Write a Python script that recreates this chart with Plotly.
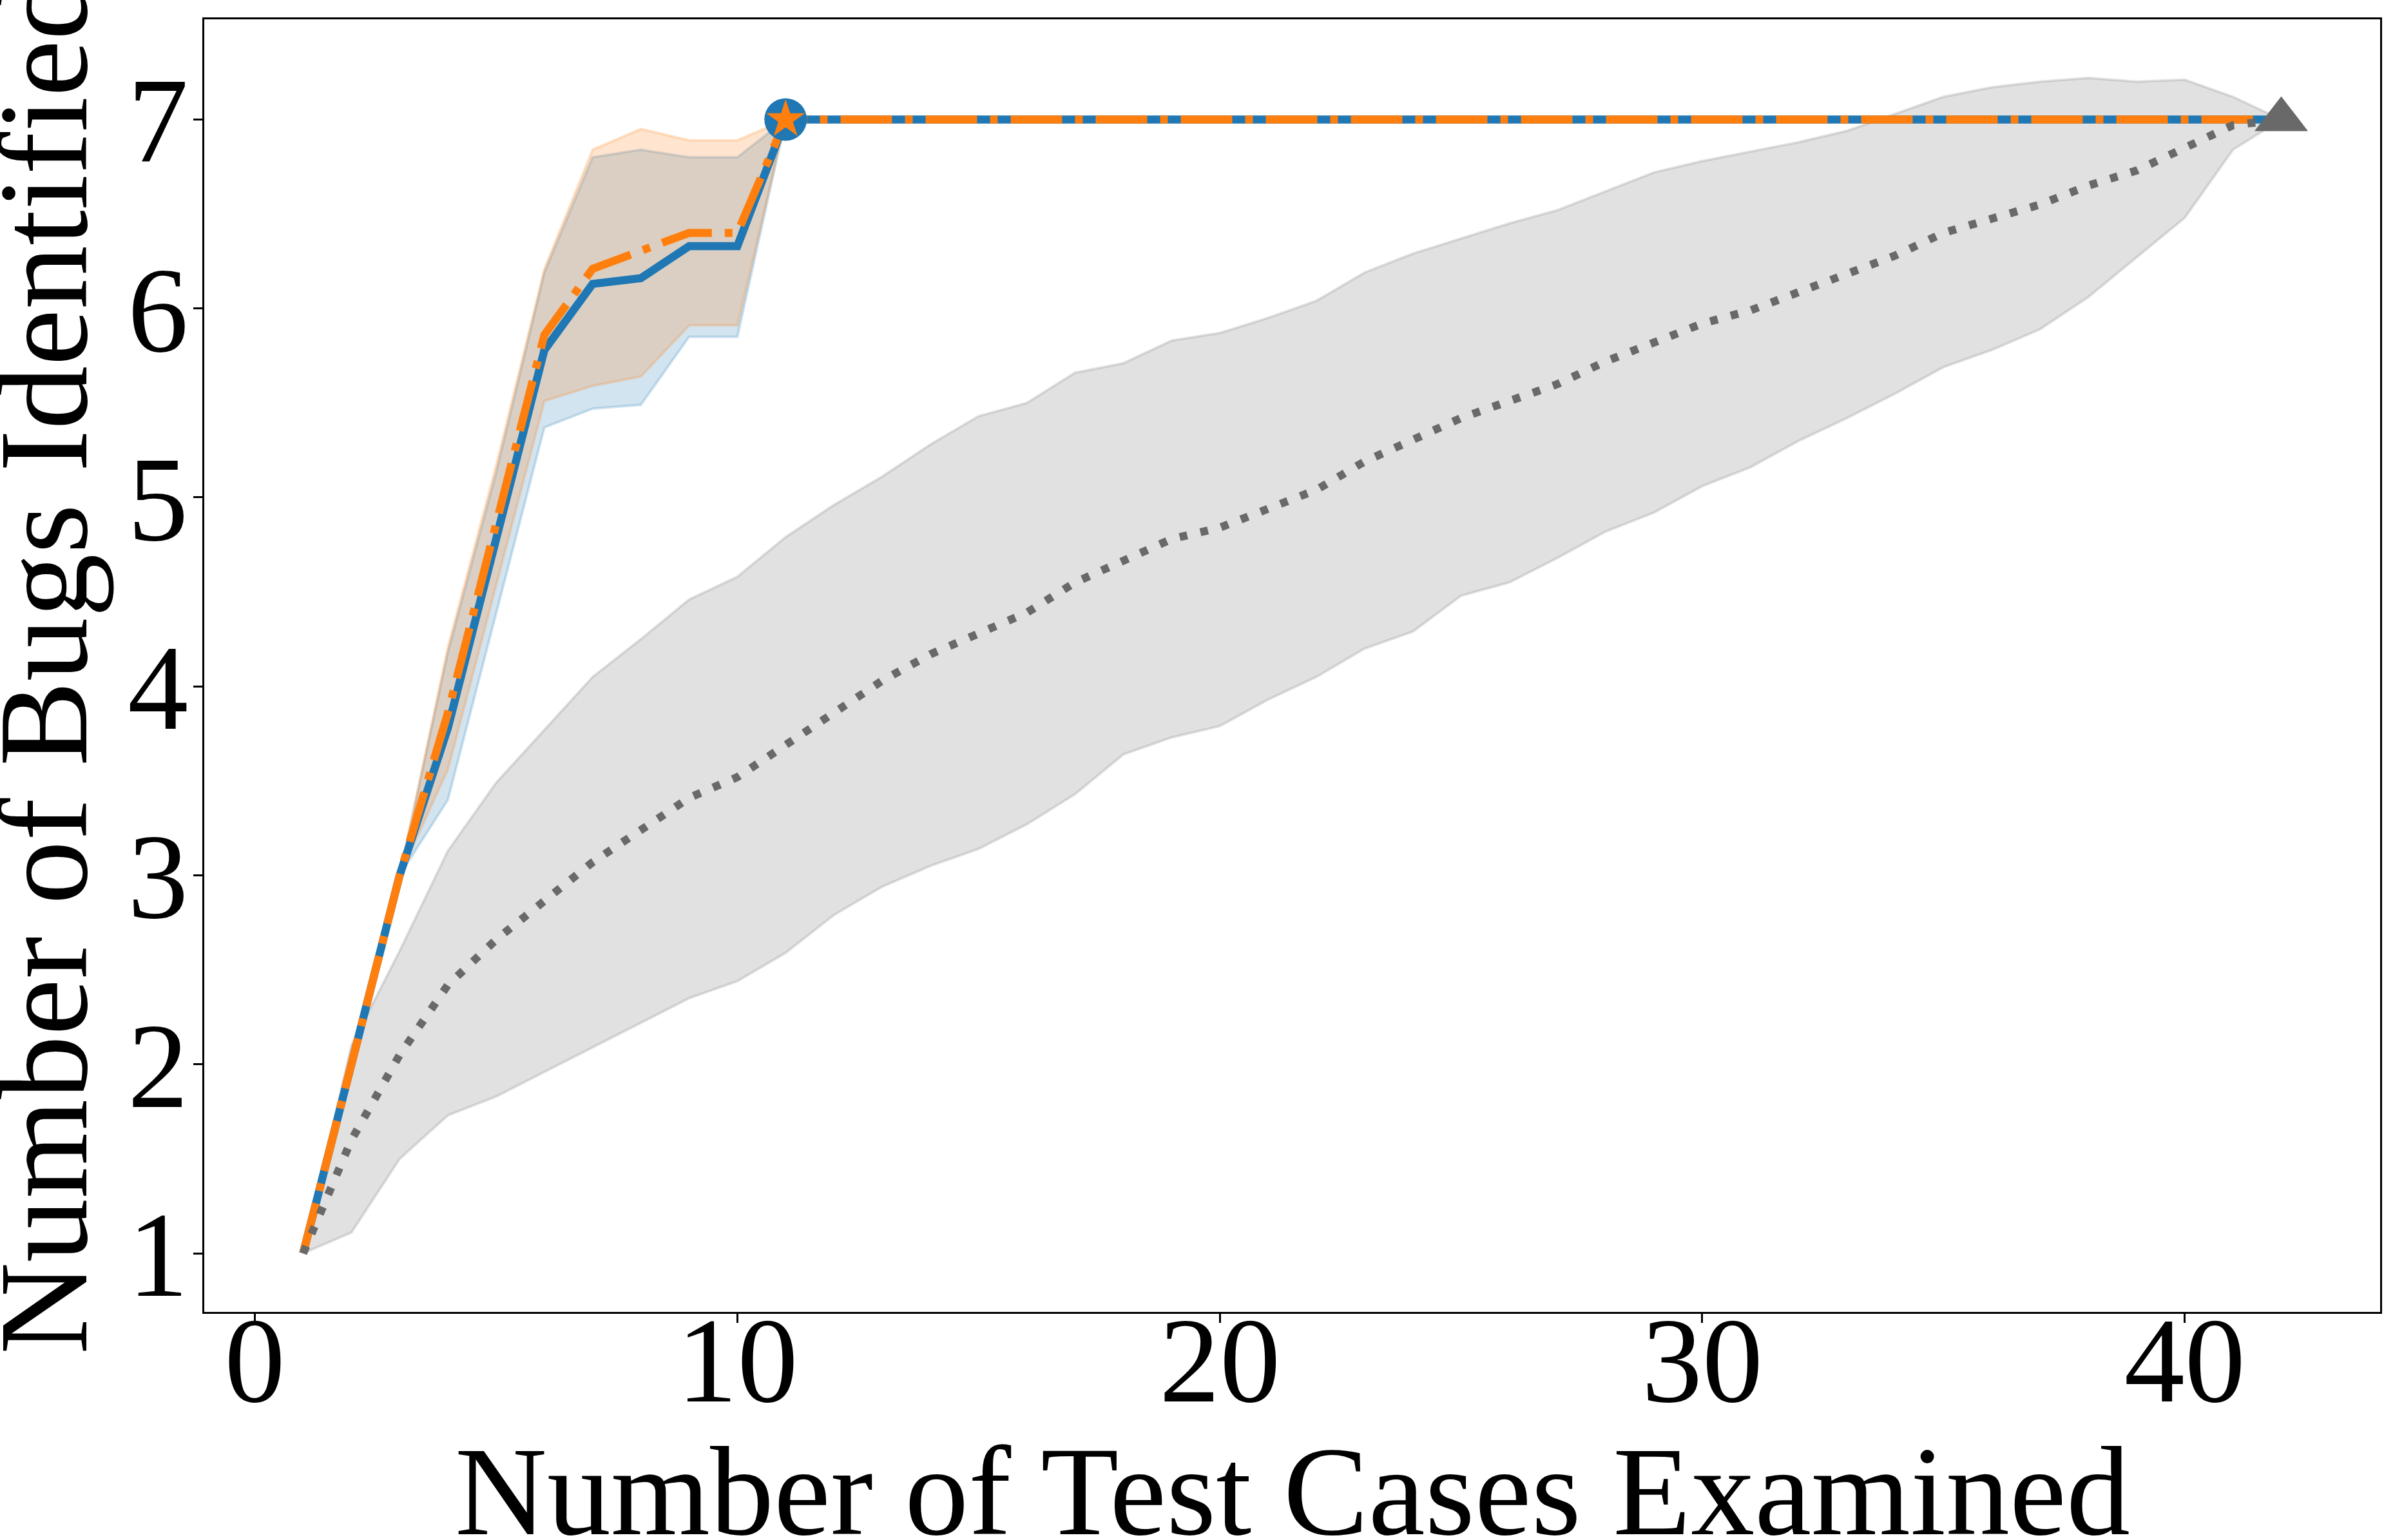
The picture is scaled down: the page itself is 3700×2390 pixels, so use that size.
import plotly.graph_objects as go

# ---- data ----
x_cases = list(range(1, 43))

blue_mean = [1.00, 2.00, 3.00, 3.78, 4.76, 5.78, 6.13, 6.16, 6.33, 6.33, 7.00] + [7.00] * 31
blue_upper = [1.00, 2.00, 3.00, 4.18, 5.13, 6.19, 6.80, 6.84, 6.80, 6.80, 7.00] + [7.00] * 31
blue_lower = [1.00, 2.00, 3.00, 3.40, 4.39, 5.37, 5.47, 5.49, 5.85, 5.85, 7.00] + [7.00] * 31

orange_mean = [1.00, 2.00, 3.00, 3.86, 4.84, 5.86, 6.21, 6.30, 6.40, 6.40, 7.00] + [7.00] * 31
orange_upper = [1.00, 2.00, 3.00, 4.21, 5.17, 6.21, 6.84, 6.95, 6.89, 6.89, 7.00] + [7.00] * 31
orange_lower = [1.00, 2.00, 3.00, 3.56, 4.53, 5.51, 5.59, 5.64, 5.91, 5.91, 7.00] + [7.00] * 31

gray_mean = [1.00, 1.60, 2.05, 2.42, 2.66, 2.87, 3.07, 3.24, 3.41, 3.52,
             3.69, 3.87, 4.03, 4.17, 4.28, 4.39, 4.55, 4.67, 4.78, 4.84,
             4.94, 5.04, 5.19, 5.30, 5.42, 5.51, 5.60, 5.72, 5.82, 5.92,
             5.99, 6.09, 6.19, 6.28, 6.40, 6.47, 6.55, 6.65, 6.73, 6.85,
             6.97, 7.00]
gray_upper = [1.00, 2.10, 2.60, 3.13, 3.49, 3.77, 4.05, 4.25, 4.46, 4.58,
              4.79, 4.96, 5.11, 5.28, 5.43, 5.50, 5.66, 5.71, 5.83, 5.87,
              5.95, 6.04, 6.19, 6.29, 6.37, 6.45, 6.52, 6.62, 6.72, 6.78,
              6.83, 6.88, 6.94, 7.03, 7.12, 7.17, 7.20, 7.22, 7.20, 7.21,
              7.12, 7.00]
gray_lower = [1.00, 1.11, 1.50, 1.73, 1.83, 1.96, 2.09, 2.22, 2.35, 2.44,
              2.59, 2.79, 2.94, 3.05, 3.14, 3.27, 3.43, 3.64, 3.73, 3.79,
              3.93, 4.05, 4.20, 4.29, 4.48, 4.55, 4.68, 4.82, 4.92, 5.06,
              5.16, 5.30, 5.42, 5.55, 5.69, 5.78, 5.89, 6.06, 6.27, 6.48,
              6.84, 7.00]

blue_end = (11, 7.0)
orange_end = (11, 7.0)
gray_end = (42, 7.0)

x_ticks = [0, 10, 20, 30, 40]
y_ticks = [1, 2, 3, 4, 5, 6, 7]

x_title = "Number of Test Cases Examined"
y_title = "Number of Bugs Identified"

# ---- style ----
BLUE = "#1f77b4"
ORANGE = "#ff7f0e"
DGRAY = "#696969"
FONT = "Liberation Serif"
LW = 12.5

fig = go.Figure()


def band(xs, lo, hi, rgba):
    px = list(xs) + list(xs)[::-1]
    py = list(hi) + list(lo)[::-1]
    fig.add_trace(go.Scatter(x=px, y=py, mode="lines", fill="toself",
                             fillcolor=rgba, line=dict(color=rgba, width=4),
                             hoverinfo="skip", showlegend=False))


band(x_cases, gray_lower, gray_upper, "rgba(128,128,128,0.24)")
band(x_cases, blue_lower, blue_upper, "rgba(31,119,180,0.2)")
band(x_cases, orange_lower, orange_upper, "rgba(255,127,14,0.2)")

fig.add_trace(go.Scatter(x=x_cases, y=blue_mean, mode="lines",
                         line=dict(color=BLUE, width=LW), showlegend=False))
fig.add_trace(go.Scatter(x=x_cases, y=orange_mean, mode="lines",
                         line=dict(color=ORANGE, width=LW, dash="80px,20px,12px,20px"),
                         showlegend=False))
fig.add_trace(go.Scatter(x=x_cases, y=gray_mean, mode="lines",
                         line=dict(color=DGRAY, width=LW, dash="12px,21px"),
                         showlegend=False))

fig.add_trace(go.Scatter(x=[blue_end[0]], y=[blue_end[1]], mode="markers",
                         marker=dict(symbol="circle", size=66, color=BLUE, line=dict(width=0)),
                         showlegend=False))
fig.add_trace(go.Scatter(x=[orange_end[0]], y=[orange_end[1]], mode="markers",
                         marker=dict(symbol="star", size=45, color=ORANGE, line=dict(width=0)),
                         showlegend=False))
fig.add_trace(go.Scatter(x=[gray_end[0]], y=[gray_end[1]], mode="markers",
                         marker=dict(symbol="triangle-up", size=72, color=DGRAY, line=dict(width=0)),
                         showlegend=False))

axis_common = dict(showgrid=False, zeroline=False, showline=True, mirror=True,
                   linecolor="black", linewidth=3.3, ticks="outside", ticklen=14,
                   tickwidth=3.3, tickcolor="black",
                   tickfont=dict(family=FONT, size=188, color="black"))

fig.update_xaxes(range=[-1.05, 44.05], tickvals=x_ticks, ticklabelstandoff=-104,
                 **axis_common)
fig.update_yaxes(range=[0.69, 7.53], tickvals=y_ticks, ticklabelstandoff=-30,
                 **axis_common)

fig.add_annotation(text=x_title, xref="paper", yref="paper", x=0.5, y=-0.1386,
                   xanchor="center", yanchor="middle", showarrow=False,
                   font=dict(family=FONT, size=198, color="black"))
fig.add_annotation(text=y_title, xref="paper", yref="paper", x=-0.0740, y=0.5,
                   xanchor="center", yanchor="middle", showarrow=False, textangle=-90,
                   font=dict(family=FONT, size=198, color="black"))

fig.update_layout(width=3700, height=2390, margin=dict(l=317, r=3, t=30, b=354),
                  paper_bgcolor="white", plot_bgcolor="white")

fig.write_html("out.html")
